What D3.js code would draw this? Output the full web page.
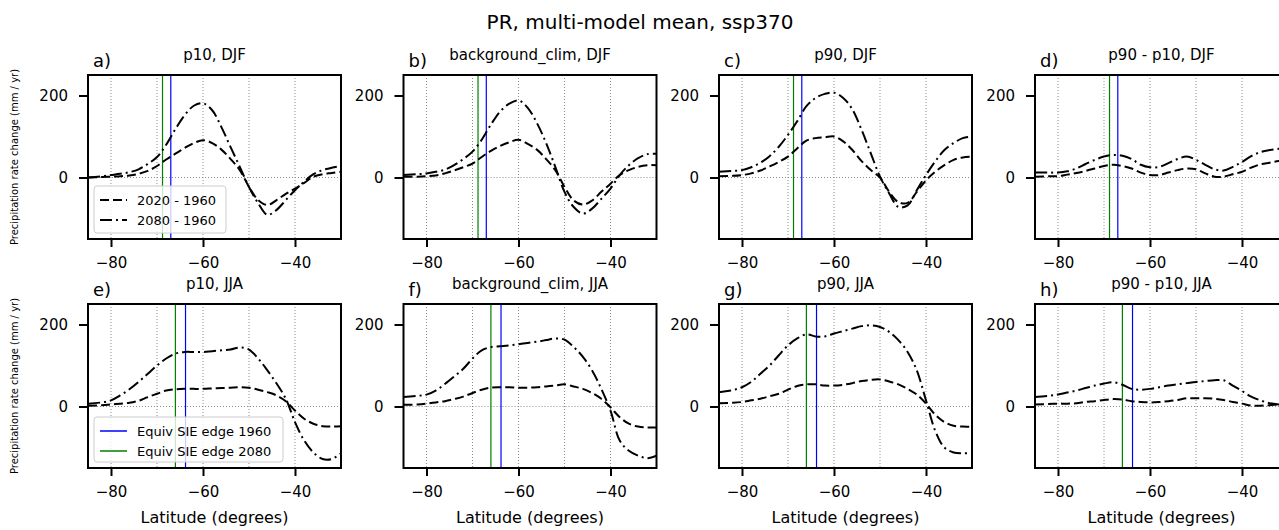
<!DOCTYPE html>
<html>
<head>
<meta charset="utf-8">
<script src="https://cdn.jsdelivr.net/npm/d3@7"></script>
<style>
  body { margin: 0; background: #fff; }
  text { font-family: "DejaVu Sans", sans-serif; fill: #000; }
</style>
</head>
<body>
<svg id="chart" width="1279" height="530"></svg>
<script>
// latitude grid (degrees) the curves are sampled on
const LAT = [-85, -82, -80, -78, -76, -74, -72, -70, -68, -66, -64, -62, -60, -58,
  -56, -54, -52, -50, -48, -46, -44, -42, -40, -38, -36, -34, -32, -30];

// precipitation rate change (mm / yr), 2020-1960 and 2080-1960
const p10_DJF_2020 = [0, 1, 2, 3, 5, 9, 16, 28, 44, 58, 72, 84, 91, 84, 68, 45, 18, -23, -55, -67, -55, -40, -27, -13, 2, 8, 11, 14];
const p10_DJF_2080 = [0, 3, 6, 9, 13, 20, 33, 50, 80, 118, 152, 175, 181, 164, 123, 74, 26, -23, -63, -91, -79, -55, -31, -10, 8, 18, 24, 28];
const bg_DJF_2020 = [2, 2, 3, 5, 10, 17, 25, 34, 50, 65, 77, 86, 92, 82, 68, 45, 18, -23, -56, -66, -56, -35, -15, 6, 18, 26, 30, 30];
const bg_DJF_2080 = [6, 8, 10, 14, 19, 30, 45, 63, 92, 129, 161, 180, 188, 170, 133, 84, 26, -35, -72, -88, -76, -52, -27, 6, 30, 47, 57, 58];
const p90_DJF_2020 = [3, 4, 6, 10, 17, 27, 38, 51, 71, 90, 96, 98, 100, 88, 67, 40, 18, 0, -35, -60, -62, -35, -7, 14, 30, 43, 49, 51];
const p90_DJF_2080 = [14, 16, 18, 25, 36, 52, 75, 104, 137, 174, 194, 204, 207, 194, 166, 116, 59, 2, -39, -72, -68, -31, 6, 39, 67, 84, 96, 100];
const diff_DJF_2020 = [2, 3, 3, 7, 11, 16, 22, 28, 31, 28, 22, 12, 6, 6, 12, 18, 22, 20, 10, 2, 2, 8, 14, 24, 32, 36, 40, 42];
const diff_DJF_2080 = [12, 12, 12, 15, 22, 33, 43, 51, 55, 53, 45, 31, 25, 26, 35, 45, 51, 43, 31, 20, 17, 26, 38, 52, 62, 67, 70, 72];

const p10_JJA_2020 = [2, 3, 5, 7, 9, 14, 23, 31, 39, 42, 43, 43, 43, 44, 45, 46, 47, 46, 41, 35, 27, 13, -10, -30, -42, -48, -49, -48];
const p10_JJA_2080 = [7, 10, 15, 27, 42, 60, 80, 100, 117, 129, 133, 133, 133, 135, 137, 139, 144, 139, 117, 88, 56, 19, -38, -83, -112, -128, -128, -114];
const bg_JJA_2020 = [4, 5, 7, 10, 13, 18, 24, 33, 41, 46, 47, 47, 46, 46, 47, 49, 51, 54, 49, 43, 33, 19, -2, -26, -42, -49, -51, -51];
const bg_JJA_2080 = [23, 26, 29, 39, 55, 73, 92, 117, 137, 145, 147, 149, 152, 155, 158, 162, 166, 163, 145, 121, 88, 43, -10, -83, -108, -120, -126, -120];
const p90_JJA_2020 = [8, 9, 11, 15, 19, 25, 31, 41, 50, 54, 54, 51, 51, 53, 57, 62, 65, 66, 61, 54, 43, 29, 7, -20, -38, -47, -49, -49];
const p90_JJA_2080 = [35, 40, 47, 60, 80, 100, 125, 149, 166, 176, 171, 171, 178, 184, 190, 196, 198, 194, 182, 162, 133, 88, 15, -59, -100, -112, -114, -114];
const diff_JJA_2020 = [5, 6, 7, 7, 8, 11, 13, 16, 18, 17, 13, 11, 10, 11, 13, 16, 20, 20, 20, 19, 16, 11, 7, 2, 2, 3, 5, 6];
const diff_JJA_2080 = [23, 26, 29, 34, 39, 45, 51, 56, 59, 53, 43, 41, 43, 47, 51, 54, 57, 60, 62, 64, 64, 51, 38, 24, 15, 8, 5, 4];

// equivalent sea-ice edge latitude
const SIE_1960 = {DJF: -67.0, JJA: -63.8};
const SIE_2080 = {DJF: -68.8, JJA: -66.0};

const X_TICKS = [-80, -60, -40];
const X_GRID = [-80, -70, -60, -50, -40];
const Y_TICKS = [0, 200];

const panels = [
  {tag: 'a)', title: 'p10, DJF', season: 'DJF', s20: p10_DJF_2020, s80: p10_DJF_2080},
  {tag: 'b)', title: 'background_clim, DJF', season: 'DJF', s20: bg_DJF_2020, s80: bg_DJF_2080},
  {tag: 'c)', title: 'p90, DJF', season: 'DJF', s20: p90_DJF_2020, s80: p90_DJF_2080},
  {tag: 'd)', title: 'p90 - p10, DJF', season: 'DJF', s20: diff_DJF_2020, s80: diff_DJF_2080},
  {tag: 'e)', title: 'p10, JJA', season: 'JJA', s20: p10_JJA_2020, s80: p10_JJA_2080},
  {tag: 'f)', title: 'background_clim, JJA', season: 'JJA', s20: bg_JJA_2020, s80: bg_JJA_2080},
  {tag: 'g)', title: 'p90, JJA', season: 'JJA', s20: p90_JJA_2020, s80: p90_JJA_2080},
  {tag: 'h)', title: 'p90 - p10, JJA', season: 'JJA', s20: diff_JJA_2020, s80: diff_JJA_2080}
];

const DASH_20 = '9,4';
const DASH_80 = '12,4,2,4';
const BLUE = '#0000ff', GREEN = '#008000';

const colLeft = [88, 403.5, 719, 1035];
const rowTop = [75, 304];
const W = 253, H = 164;

let svg = d3.select('#chart');

svg.append('text')
  .attr('x', 640).attr('y', 29)
  .attr('text-anchor', 'middle')
  .style('font-size', '20px')
  .text('PR, multi-model mean, ssp370');

let x = d3.scaleLinear().domain([-85, -30]).range([0, W]);
let y = d3.scaleLinear().domain([-150, 250]).range([H, 0]);

let line = (vals) => d3.line()
  .x((d, i) => x(LAT[i]))
  .y(d => y(d))
  .curve(d3.curveCatmullRom.alpha(0.5))(vals);

function legend(g, lx, ly, lw, lh, items) {
  let lg = g.append('g').attr('transform', `translate(${lx},${ly})`);
  lg.append('rect')
    .attr('width', lw).attr('height', lh)
    .attr('rx', 3)
    .style('fill', '#fff').style('fill-opacity', 0.8)
    .style('stroke', '#cccccc').style('stroke-width', 1);
  items.forEach((it, i) => {
    let cy = 14 + i * 20;
    lg.append('line')
      .attr('x1', 6).attr('x2', 33).attr('y1', cy).attr('y2', cy)
      .style('stroke', it.color)
      .style('stroke-width', it.width)
      .style('stroke-dasharray', it.dash || null);
    lg.append('text')
      .attr('x', 43).attr('y', cy).attr('dy', '0.35em')
      .style('font-size', '13px')
      .text(it.label);
  });
}

panels.forEach((p, i) => {
  let col = i % 4, row = Math.floor(i / 4);
  let g = svg.append('g').attr('transform', `translate(${colLeft[col]},${rowTop[row]})`);

  g.append('clipPath').attr('id', `clip-${i}`)
    .append('rect').attr('width', W).attr('height', H);
  let plot = g.append('g').attr('clip-path', `url(#clip-${i})`);

  // dotted grid
  plot.selectAll('line.grid').data(X_GRID).enter().append('line')
    .attr('class', 'grid')
    .attr('x1', d => x(d)).attr('x2', d => x(d))
    .attr('y1', 0).attr('y2', H)
    .style('stroke', '#8c8c8c').style('stroke-width', 1)
    .style('stroke-dasharray', '1,2');
  plot.append('line')
    .attr('x1', 0).attr('x2', W).attr('y1', y(0)).attr('y2', y(0))
    .style('stroke', '#8c8c8c').style('stroke-width', 1)
    .style('stroke-dasharray', '1,2');

  // sea-ice edges
  plot.append('line')
    .attr('x1', x(SIE_2080[p.season])).attr('x2', x(SIE_2080[p.season]))
    .attr('y1', 0).attr('y2', H)
    .style('stroke', GREEN).style('stroke-width', 1.2);
  plot.append('line')
    .attr('x1', x(SIE_1960[p.season])).attr('x2', x(SIE_1960[p.season]))
    .attr('y1', 0).attr('y2', H)
    .style('stroke', BLUE).style('stroke-width', 1.2);

  plot.append('path').attr('d', line(p.s20))
    .style('fill', 'none').style('stroke', '#000').style('stroke-width', 2)
    .style('stroke-dasharray', DASH_20);
  plot.append('path').attr('d', line(p.s80))
    .style('fill', 'none').style('stroke', '#000').style('stroke-width', 2)
    .style('stroke-dasharray', DASH_80);

  // axes
  let ax = g.append('g').attr('transform', `translate(0,${H})`)
    .call(d3.axisBottom(x).tickValues(X_TICKS).tickSize(8).tickPadding(10));
  let ay = g.append('g')
    .call(d3.axisLeft(y).tickValues(Y_TICKS).tickSize(9).tickPadding(11));
  [ax, ay].forEach(a => {
    a.select('.domain').remove();
    a.selectAll('.tick line').style('stroke', '#000').style('stroke-width', 2);
    a.selectAll('.tick text').style('font-size', '15px')
      .style('font-family', '"DejaVu Sans", sans-serif').style('fill', '#000');
  });

  g.append('rect').attr('width', W).attr('height', H)
    .style('fill', 'none').style('stroke', '#000').style('stroke-width', 2);

  g.append('text')
    .attr('x', W / 2).attr('y', -15)
    .attr('text-anchor', 'middle')
    .style('font-size', '15px')
    .text(p.title);
  g.append('text')
    .attr('x', 5).attr('y', -8)
    .style('font-size', '18px')
    .text(p.tag);

  if (col == 0) {
    svg.append('text')
      .attr('transform', `translate(18,${rowTop[row] + H / 2}) rotate(-90)`)
      .attr('text-anchor', 'middle')
      .style('font-size', '10px')
      .text('Precipitation rate change (mm / yr)');
  }
  if (row == 1) {
    g.append('text')
      .attr('x', W / 2).attr('y', 219)
      .attr('text-anchor', 'middle')
      .style('font-size', '16px')
      .text('Latitude (degrees)');
  }
  if (i == 0) {
    legend(g, 6, 111, 132, 47, [
      {label: '2020 - 1960', color: '#000', width: 2, dash: DASH_20},
      {label: '2080 - 1960', color: '#000', width: 2, dash: DASH_80}
    ]);
  }
  if (i == 4) {
    legend(g, 6, 113, 189, 45, [
      {label: 'Equiv SIE edge 1960', color: BLUE, width: 1.5},
      {label: 'Equiv SIE edge 2080', color: GREEN, width: 1.5}
    ]);
  }
});
</script>
</body>
</html>
